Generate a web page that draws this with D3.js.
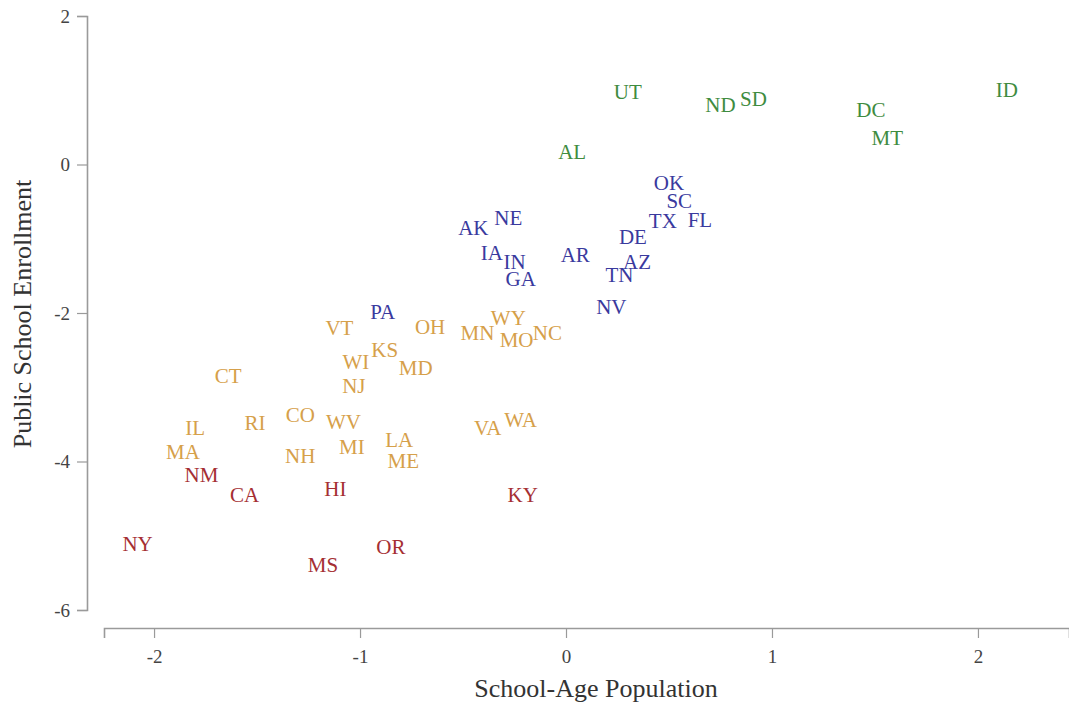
<!DOCTYPE html>
<html>
<head>
<meta charset="utf-8">
<script src="https://cdn.jsdelivr.net/npm/d3@7"></script>
<style>
  html, body { margin: 0; padding: 0; background: #fff; }
  svg { display: block; }
</style>
</head>
<body>
<svg id="chart" width="1069" height="703"></svg>
<script>
// ---- data ----
const states = ["UT","ND","SD","DC","MT","ID","AL",
  "OK","SC","TX","FL","DE","AZ","TN","NV","AR","AK","NE","IA","IN","GA","PA",
  "VT","OH","WY","MN","MO","NC","KS","WI","MD","NJ","WV","MI","LA","ME","VA","WA","CO","NH","RI","CT","IL","MA",
  "NM","CA","NY","HI","MS","OR","KY"];
const schoolAgePop = [0.30,0.75,0.91,1.48,1.56,2.14,0.03,
  0.50,0.55,0.47,0.65,0.325,0.345,0.26,0.22,0.045,-0.45,-0.28,-0.36,-0.25,-0.22,-0.89,
  -1.10,-0.66,-0.28,-0.43,-0.24,-0.09,-0.88,-1.02,-0.73,-1.03,-1.08,-1.04,-0.81,-0.79,-0.38,-0.22,-1.29,-1.29,-1.51,-1.64,-1.80,-1.86,
  -1.77,-1.56,-2.08,-1.12,-1.18,-0.85,-0.21];
const enrollment = [0.98,0.80,0.88,0.73,0.36,1.00,0.17,
  -0.25,-0.49,-0.76,-0.75,-0.98,-1.31,-1.49,-1.92,-1.22,-0.86,-0.72,-1.19,-1.31,-1.54,-1.99,
  -2.20,-2.19,-2.07,-2.27,-2.36,-2.27,-2.50,-2.66,-2.74,-2.99,-3.47,-3.80,-3.71,-3.99,-3.55,-3.44,-3.37,-3.93,-3.48,-2.85,-3.55,-3.87,
  -4.18,-4.45,-5.11,-4.37,-5.39,-5.15,-4.45];
const cluster = [0,0,0,0,0,0,0,
  1,1,1,1,1,1,1,1,1,1,1,1,1,1,1,
  2,2,2,2,2,2,2,2,2,2,2,2,2,2,2,2,2,2,2,2,2,2,
  3,3,3,3,3,3,3];
const xTicks = [-2,-1,0,1,2];
const yTicks = [-6,-4,-2,0,2];
const clusterColors = ["#3f8c3f","#3a3a9e","#d6a04a","#a52f33"];

// ---- chart ----
const svg = d3.select("#chart");
const FONT = "'Liberation Serif', 'DejaVu Serif', serif";

const x = d3.scaleLinear().domain([-2.243, 2.442]).range([104, 1069]);
const y = d3.scaleLinear().domain([-6, 2]).range([610, 16]);

// x axis
const xAxis = svg.append("g")
  .attr("transform", "translate(0,628)")
  .call(d3.axisBottom(x).tickValues(xTicks).tickSizeOuter(0).tickSize(10).tickPadding(12)
        .tickFormat(d => String(d)));
xAxis.attr("font-family", FONT);
xAxis.select(".domain").attr("stroke", "#9a9a9a").attr("stroke-width", 1.6);
xAxis.selectAll(".tick line").attr("stroke", "#9a9a9a").attr("stroke-width", 1.2);
xAxis.selectAll(".tick text").attr("font-family", FONT).attr("font-size", 19).attr("fill", "#444");

// y axis
const yAxis = svg.append("g")
  .attr("transform", "translate(87,0)")
  .call(d3.axisLeft(y).tickValues(yTicks).tickSizeOuter(0).tickSize(10).tickPadding(7)
        .tickFormat(d => String(d)));
yAxis.attr("font-family", FONT);
yAxis.select(".domain").attr("stroke", "#9a9a9a").attr("stroke-width", 1.6);
yAxis.selectAll(".tick line").attr("stroke", "#9a9a9a").attr("stroke-width", 1.2);
yAxis.selectAll(".tick text").attr("font-family", FONT).attr("font-size", 19).attr("fill", "#444");

// axis titles
svg.append("text")
  .attr("x", 596).attr("y", 697)
  .attr("text-anchor", "middle")
  .attr("font-family", FONT).attr("font-size", 26).attr("fill", "#333")
  .text("School-Age Population");

svg.append("text")
  .attr("transform", "translate(31,314) rotate(-90)")
  .attr("text-anchor", "middle")
  .attr("font-family", FONT).attr("font-size", 26).attr("fill", "#333")
  .text("Public School Enrollment");

// labels
svg.append("g").selectAll("text")
  .data(states.map((s, i) => ({s, xv: schoolAgePop[i], yv: enrollment[i], c: cluster[i]})))
  .join("text")
  .attr("x", d => x(d.xv))
  .attr("y", d => y(d.yv))
  .attr("dy", "0.33em")
  .attr("text-anchor", "middle")
  .attr("font-family", FONT)
  .attr("font-size", 21)
  .attr("fill", d => clusterColors[d.c])
  .text(d => d.s);
</script>
</body>
</html>
